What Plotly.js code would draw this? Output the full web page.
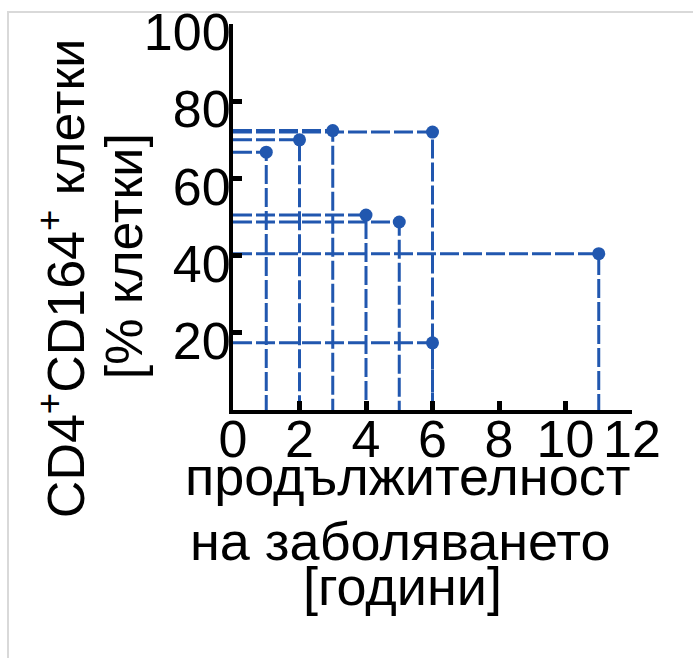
<!DOCTYPE html>
<html>
<head>
<meta charset="utf-8">
<script src="https://cdn.plot.ly/plotly-3.0.1.min.js"></script>
<style>
  html, body { margin: 0; padding: 0; background: #fff; }
  #wrap { position: relative; width: 693px; height: 658px; }
  #frame { position: absolute; left: 7px; top: 11px; right: 0; bottom: 0;
           border-top: 2px solid #d9d9d9; border-left: 2px solid #d9d9d9; pointer-events: none; }
  #chart { position: absolute; left: 0; top: 0; width: 693px; height: 658px; }
</style>
</head>
<body>
<div id="wrap">
  <div id="chart"></div>
  <div id="frame"></div>
</div>
<script>
// Disease duration (years) and CD4+CD164+ cells (% cells)
const durationYears = [1, 2, 3, 4, 5, 6, 6, 11];
const cd164Percent  = [66.8, 70.0, 72.4, 50.5, 48.7, 72.0, 17.4, 40.5];

const xTickVals = [0, 2, 4, 6, 8, 10, 12];
const xTickText = ['0', '2', '4', '6', '8', '10', '12'];
const yTickVals = [20, 40, 60, 80, 100];
const yTickText = ['20', '40', '60', '80', '100'];

const yTitleLines = ['CD4<sup>+</sup>CD164<sup>+</sup> клетки', '[% клетки]'];
const xTitleLines = ['продължителност', 'на заболяването', '[години]'];

const BLUE = 'rgb(33,87,175)';
const FONT = '"Liberation Sans", Arial, sans-serif';
const FS = 52;
const FSX = 54;

// drop lines: from y-axis to point, then down to x-axis
const lx = [], ly = [];
durationYears.forEach((x, i) => {
  const y = cd164Percent[i];
  lx.push(0, x, x, null);
  ly.push(y, y, 0, null);
});

const traces = [
  { type: 'scatter', mode: 'lines', x: lx, y: ly, connectgaps: false,
    line: { color: BLUE, width: 3, dash: '19px,4px' }, hoverinfo: 'skip', cliponaxis: false },
  { type: 'scatter', mode: 'markers', x: durationYears, y: cd164Percent,
    marker: { color: BLUE, size: 13 }, cliponaxis: false }
];

const L = 233, R = 61, T = 23.5, B = 248;
const W = 693, H = 658;
const pw = W - L - R, ph = H - T - B;
const px2x = p => (p - L) / pw;
const py2y = p => (H - B - p) / ph;

const ann = [];
ann.push({ text: yTitleLines[0], textangle: -90, xref: 'paper', yref: 'paper',
  x: px2x(62), y: py2y(279), xanchor: 'center', yanchor: 'middle', showarrow: false,
  font: { family: FONT, size: FS, color: '#000' } });
ann.push({ text: yTitleLines[1], textangle: -90, xref: 'paper', yref: 'paper',
  x: px2x(124), y: py2y(256), xanchor: 'center', yanchor: 'middle', showarrow: false,
  font: { family: FONT, size: FS, color: '#000' } });
const xCenters = [407.5, 400, 402.5];
const xMids = [476, 541, 586];
xTitleLines.forEach((t, i) => {
  ann.push({ text: t, xref: 'paper', yref: 'paper', x: px2x(xCenters[i]), y: py2y(xMids[i]),
    xanchor: 'center', yanchor: 'middle', showarrow: false,
    font: { family: FONT, size: FSX, color: '#000' } });
});

const layout = {
  width: W, height: H,
  margin: { l: L, r: R, t: T, b: B, pad: 0 },
  paper_bgcolor: '#fff', plot_bgcolor: '#fff',
  showlegend: false,
  font: { family: FONT, size: FS, color: '#000' },
  xaxis: {
    range: [0, 12], tickvals: xTickVals, ticktext: xTickText,
    ticks: 'inside', ticklen: 9, tickwidth: 5, tickcolor: '#000',
    showline: true, linecolor: '#000', linewidth: 4,
    showgrid: false, zeroline: false,
    ticklabeloverflow: 'allow', ticklabelstandoff: -19,
    tickfont: { family: FONT, size: FS, color: '#000' }
  },
  yaxis: {
    range: [0, 100], tickvals: yTickVals, ticktext: yTickText,
    ticks: 'inside', ticklen: 9, tickwidth: 5, tickcolor: '#000',
    showline: true, linecolor: '#000', linewidth: 4,
    showgrid: false, zeroline: false,
    ticklabeloverflow: 'allow', ticklabelstandoff: -12, ticklabelshift: 8,
    tickfont: { family: FONT, size: FS, color: '#000' }
  },
  annotations: ann
};

Plotly.newPlot('chart', traces, layout, { displayModeBar: false, staticPlot: true });
</script>
</body>
</html>
